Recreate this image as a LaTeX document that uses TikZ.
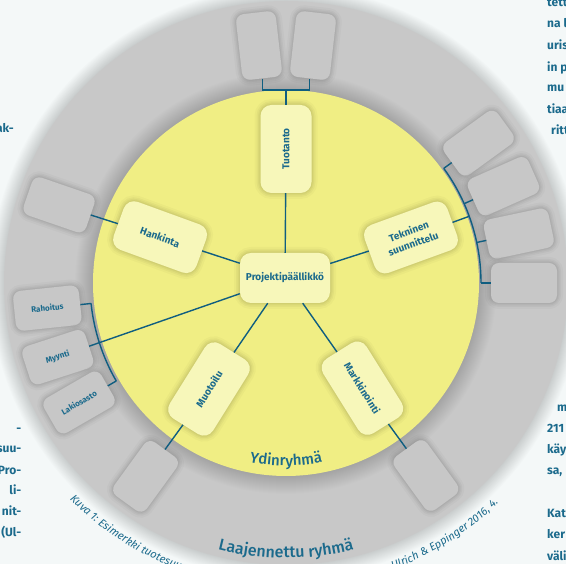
\documentclass[tikz,border=0pt]{standalone}
\usepackage{fontspec}
\setmainfont{Fira Sans}
\newfontfamily\firamed{Fira Sans Medium}
\usetikzlibrary{calc,decorations.text}
\definecolor{bg}{RGB}{244,248,248}
\definecolor{ring}{RGB}{200,200,200}
\definecolor{core}{RGB}{240,238,132}
\definecolor{inbox}{RGB}{247,247,186}
\definecolor{outbox}{RGB}{199,199,199}
\definecolor{txt}{RGB}{27,106,140}
\definecolor{lin}{RGB}{16,94,128}
\begin{document}
\begin{tikzpicture}[x=1pt,y=1pt,
  softshadow/.style={
    preaction={draw=black, draw opacity=0.025, line width=12pt},
    preaction={draw=black, draw opacity=0.03, line width=8pt},
    preaction={draw=black, draw opacity=0.035, line width=5pt},
    preaction={draw=black, draw opacity=0.04, line width=2.5pt}},
  innerbox/.style={fill=inbox, rounded corners=11pt, minimum width=88pt, minimum height=51pt,
    align=center, text=txt, font=\bfseries\fontsize{10}{13}\selectfont, inner sep=2pt, softshadow},
  outerbox/.style={fill=outbox, rounded corners=8pt, minimum width=66pt, minimum height=40pt,
    text=txt, font=\bfseries\fontsize{8}{10}\selectfont, inner sep=1pt, softshadow},
  conn/.style={draw=lin, line width=1.4pt},
  fragw/.style={text=txt, font=\bfseries\fontsize{12}{14}\selectfont, inner sep=0pt, anchor=base west},
  frage/.style={text=txt, font=\bfseries\fontsize{12}{14}\selectfont, inner sep=0pt, anchor=base east}
]
\useasboundingbox (0,0) rectangle (566,564);
\begin{scope}
\clip (0,0) rectangle (566,564);
\fill[bg] (0,0) rectangle (566,564);
\coordinate (C) at (286,281);
% outer glow of the wide ring
\foreach \k in {1,...,14} \fill[black,opacity=0.01] (C) circle ({282+\k});
\fill[ring] (C) circle (282);
% shadow of the core circle
\foreach \k in {1,...,18} \fill[black,opacity=0.006] (C) circle ({193+\k});
\fill[core] (C) circle (193);

% page text fragments
\node[frage] (f1) at (14,431) {ak-};
\node[frage] (f2) at (21.5,131) {-};
\node[frage] (f3) at (21.5,111) {suu-};
\node[frage] (f4) at (21.5,89) {Pro-};
\node[frage] (f5) at (21.5,69) {li-};
\node[frage] (f6) at (21.5,48) {nit-};
\node[frage] (f7) at (21.5,27) {(Ul-};
\node[fragw] (r1) at (547,557) {tett};
\node[fragw] (r2) at (547,536) {na l};
\node[fragw] (r3) at (547,514) {uris};
\node[fragw] (r4) at (547,492.5) {in p};
\node[fragw] (r5) at (547,472) {mu};
\node[fragw] (r6) at (547,450) {tiaa};
\node[fragw] (r7) at (551,429) {ritt};
\node[fragw] (s1) at (557,152) {m};
\node[fragw] (s2) at (547,131) {211};
\node[fragw] (s3) at (547,110) {käy};
\node[fragw] (s4) at (547,89) {sa,};
\node[fragw] (s5) at (547,46) {Kat};
\node[fragw] (s6) at (547,25) {ker};
\node[fragw] (s7) at (547,3) {väli};

% caption along the outside of the ring
\path[decorate, decoration={text along path, text align=left, text color=txt,
  text={|\itshape\fontsize{11}{13}\selectfont|Kuva 1: Esimerkki tuotesuu}}]
  ($(C)+(225:306)$) arc[start angle=225, end angle=262, radius=306];
\path[decorate, decoration={text along path, text align=right, text color=txt,
  text={|\itshape\fontsize{11}{13}\selectfont|g: Ulrich {\&} Eppinger 2016, 4.}}]
  ($(C)+(270:306)$) arc[start angle=270, end angle=314, radius=306];

% group labels
\path[decorate, decoration={text along path, text align=center, text color=txt,
  text={|\firamed\fontsize{15}{18}\selectfont|Ydinryhmä}}]
  ($(C)+(245:183)$) arc[start angle=245, end angle=295, radius=183];
\path[decorate, decoration={text along path, text align=center, text color=txt,
  text={|\firamed\fontsize{16}{19}\selectfont|Laajennettu ryhmä}}]
  ($(C)+(240:275)$) arc[start angle=240, end angle=300, radius=275];

% core team
\node[innerbox, minimum width=90pt, minimum height=50pt] (pp) at (285,286) {Projektipäällikkö};
\node[innerbox, rotate=90] (tuo) at ($(C)+(90:134)$) {Tuotanto};
\node[innerbox, rotate=20] (tek) at ($(C)+(20:133)$) {Tekninen\\suunnittelu};
\node[innerbox, rotate=-20] (han) at ($(C)+(160:134)$) {Hankinta};
\node[innerbox, rotate=58] (muo) at ($(C)+(234:131)$) {Muotoilu};
\node[innerbox, rotate=-58] (mar) at ($(C)+(306:130)$) {Markkinointi};

% extended team
\node[outerbox, rotate=96.5] (g1) at ($(C)+(96.5:239)$) {};
\node[outerbox, rotate=83.5] (g2) at ($(C)+(83.5:239)$) {};
\node[outerbox, rotate=36] (ga) at ($(C)+(36:238)$) {};
\node[outerbox, rotate=24] (gb) at ($(C)+(24:238)$) {};
\node[outerbox, rotate=12] (gc) at ($(C)+(12:238)$) {};
\node[outerbox, rotate=0] (gd) at ($(C)+(0:238)$) {};
\node[outerbox, rotate=-19] (gh) at ($(C)+(161:240)$) {};
\node[outerbox, rotate=6] (rah) at ($(C)+(186:240)$) {Rahoitus};
\node[outerbox, rotate=18] (myy) at ($(C)+(198:240)$) {Myynti};
\node[outerbox, rotate=30] (lak) at ($(C)+(210:239)$) {Lakiosasto};
\node[outerbox, rotate=54] (gm) at ($(C)+(234:239)$) {};
\node[outerbox, rotate=-54] (gk) at ($(C)+(306:238)$) {};

% connectors
\foreach \n in {tuo,tek,han,muo,mar,myy} \draw[conn] (pp) -- (\n);
\coordinate (tb) at ($(C)+(90:193)$);
\draw[conn] (tuo) -- (tb);
\draw[conn] (g1.west) -- (g1.west |- tb) -- (g2.west |- tb) -- (g2.west);
\coordinate (tk) at ($(C)+(20:195)$);
\draw[conn] (tek) -- (tk);
\draw[conn] ($(C)+(36:195)$) arc[start angle=36, end angle=0, radius=195];
\foreach \n/\a in {ga/36,gb/24,gc/12,gd/0} \draw[conn] ($(C)+(\a:195)$) -- (\n);
\draw[conn] (han) -- (gh);
\draw[conn] ($(C)+(186:196)$) arc[start angle=186, end angle=210, radius=196];
\draw[conn] ($(C)+(186:196)$) -- (rah);
\draw[conn] ($(C)+(210:196)$) -- (lak);
\draw[conn] (muo) -- (gm);
\draw[conn] (mar) -- (gk);
\end{scope}
\end{tikzpicture}
\end{document}
